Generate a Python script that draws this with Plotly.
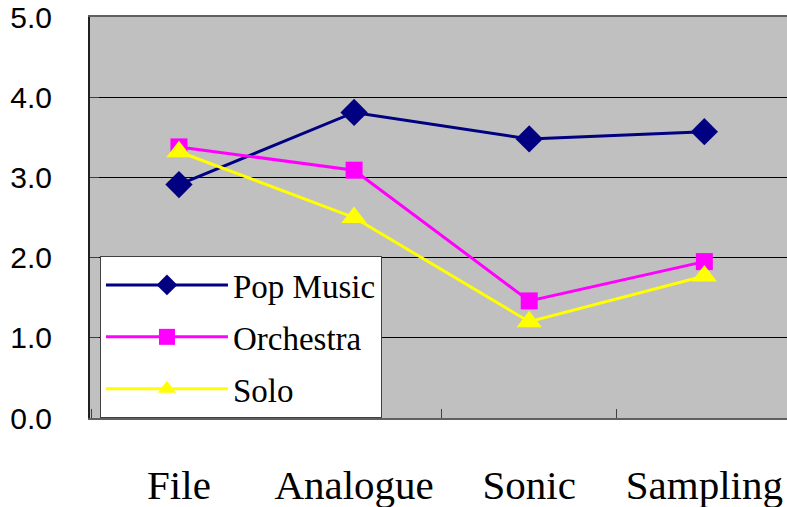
import plotly.graph_objects as go

categories = ["File", "Analogue", "Sonic", "Sampling"]
pop_music = [2.91, 3.81, 3.48, 3.57]
orchestra = [3.38, 3.09, 1.46, 1.95]
solo = [3.32, 2.50, 1.20, 1.77]
y_ticks = [0, 1, 2, 3, 4, 5]

SERIF = "Liberation Serif"
SANS = "Liberation Sans"

series = [
    ("Pop Music", pop_music, "#000080", "diamond", 21),
    ("Orchestra", orchestra, "#FF00FF", "square", 17),
    ("Solo", solo, "#FFFF00", "triangle-up", 22),
]

fig = go.Figure()
for name, vals, color, symbol, size in series:
    fig.add_trace(go.Scatter(
        x=categories, y=vals, name=name, mode="lines+markers",
        legendgroup=name,
        line=dict(color=color, width=3),
        marker=dict(symbol=symbol, size=size, color=color, line=dict(width=0)),
    ))

fig.update_layout(
    width=787, height=507,
    margin=dict(l=90, r=0, t=17, b=89, autoexpand=False),
    paper_bgcolor="white",
    plot_bgcolor="#C0C0C0",
    showlegend=True,
    legend=dict(
        x=0.0143, y=0, xanchor="left", yanchor="bottom",
        bgcolor="white", bordercolor="#404040", borderwidth=1,
        font=dict(family=SERIF, size=33, color="black"),
        tracegroupgap=6, itemwidth=122,
    ),
)
fig.update_xaxes(
    type="category", range=[-0.508, 3.472], automargin=False,
    showgrid=False, tickson="boundaries", tickangle=0,
    ticks="inside", ticklen=9, tickcolor="#404040", tickwidth=1,
    showline=True, linecolor="#606060", linewidth=2, mirror=True,
    tickfont=dict(family=SERIF, size=41, color="black"),
    ticklabelstandoff=30,
)
fig.update_yaxes(
    range=[0, 5], tickvals=y_ticks, tickformat=".1f", automargin=False,
    showgrid=True, gridcolor="black", gridwidth=1,
    ticks="inside", ticklen=9, tickcolor="#404040",
    showline=True, linecolor="#202020", linewidth=2,
    zeroline=False,
    tickfont=dict(family=SANS, size=30, color="black"),
    ticklabelstandoff=30,
)

fig.write_html("out.html")
